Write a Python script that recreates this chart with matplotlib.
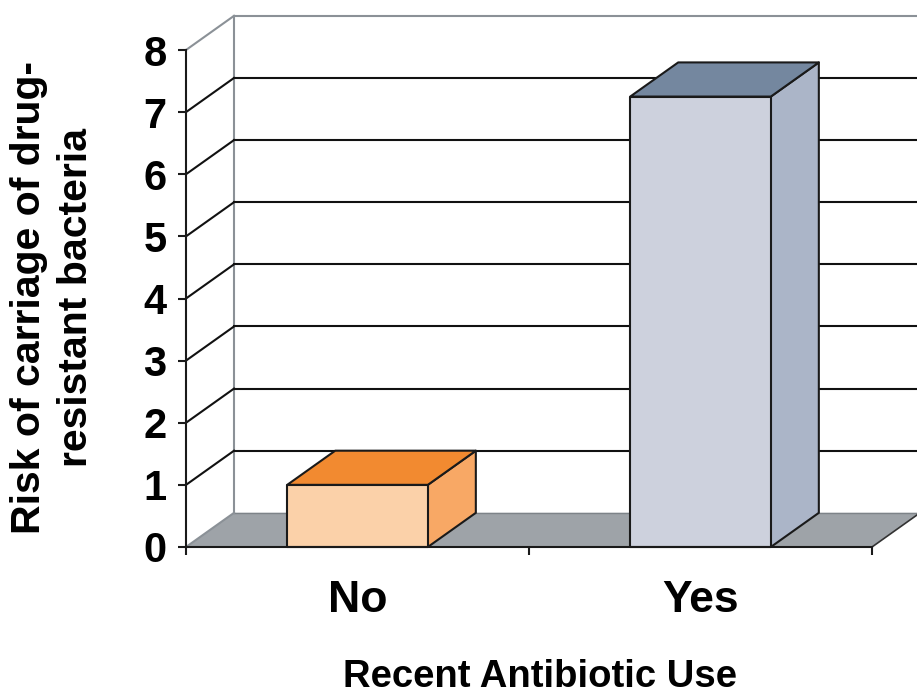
import matplotlib
matplotlib.use('Agg')
import matplotlib.pyplot as plt
from matplotlib.patches import Polygon

categories = ['No', 'Yes']
values = [1.0, 7.25]
yticks = [0, 1, 2, 3, 4, 5, 6, 7, 8]
front_colors = ['#FBD1A9', '#CDD1DD']
top_colors = ['#F28A30', '#74879F']
side_colors = ['#F8A865', '#ABB5C8']
xlabel = 'Recent Antibiotic Use'
ylabel = 'Risk of carriage of drug-\nresistant bacteria'

W, H = 917, 693
fig = plt.figure(figsize=(W / 100, H / 100), dpi=100)
ax = fig.add_axes([186 / W, (H - 547) / H, 686 / W, 497 / H])
ax.set_xlim(-0.5, 1.5)
ax.set_ylim(0, 8)

dx, dy = 0.14, 0.55
bar_w = 0.41
lw = 1.5
gray_line = '#8B9197'
floor_col = '#9EA3A8'
FONT = 'Liberation Sans'

x0, x1 = -0.5, 1.5
# floor
ax.add_patch(Polygon([(x0, 0), (x1, 0), (x1 + dx, dy), (x0 + dx, dy)], closed=True,
                     facecolor=floor_col, edgecolor='none', zorder=1, clip_on=False))
ax.plot([x0 + dx, x1 + dx], [dy, dy], color='#7d8388', lw=1.0, zorder=1.1, clip_on=False)
ax.plot([x1, x1 + dx], [0, dy], color='#333333', lw=1.2, zorder=1.1, clip_on=False)

# back wall left vertical
ax.plot([x0 + dx, x0 + dx], [dy, yticks[-1] + dy], color=gray_line, lw=lw, zorder=1.2, clip_on=False)
# gridlines on back wall + left wall diagonals
for v in yticks:
    col = gray_line if v in (yticks[0], yticks[-1]) else '#111111'
    ax.plot([x0, x0 + dx], [v, v + dy], color=col, lw=lw, zorder=1.2, clip_on=False)
    if v != yticks[0]:
        ax.plot([x0 + dx, x1 + dx], [v + dy, v + dy], color=col, lw=lw, zorder=1.2, clip_on=False)

# bars
for i, (c, v) in enumerate(zip(categories, values)):
    xl, xr = i - bar_w / 2, i + bar_w / 2
    side = [(xr, 0), (xr + dx, dy), (xr + dx, v + dy), (xr, v)]
    top = [(xl, v), (xr, v), (xr + dx, v + dy), (xl + dx, v + dy)]
    front = [(xl, 0), (xr, 0), (xr, v), (xl, v)]
    for pts, fc in ((side, side_colors[i]), (top, top_colors[i]), (front, front_colors[i])):
        ax.add_patch(Polygon(pts, closed=True, facecolor=fc, edgecolor='#1a1a1a',
                             lw=lw, joinstyle='round', zorder=2, clip_on=False))

# axes styling
for s in ('top', 'right'):
    ax.spines[s].set_visible(False)
for s in ('left', 'bottom'):
    ax.spines[s].set_color('#1a1a1a')
    ax.spines[s].set_linewidth(lw)
    ax.spines[s].set_zorder(3)

ax.set_yticks(yticks)
ax.set_yticklabels([str(t) for t in yticks], fontsize=30, fontweight='bold', family=FONT)
ax.tick_params(axis='y', direction='out', length=6, width=lw, pad=8, color='#1a1a1a')
ax.set_xticks(range(len(categories)))
ax.set_xticklabels(categories, fontsize=32, fontweight='bold', family=FONT)
ax.set_xticks([-0.5, 0.5, 1.5], minor=True)
ax.tick_params(axis='x', which='major', length=0, pad=24)
ax.tick_params(axis='x', which='minor', direction='out', length=6, width=lw, color='#1a1a1a')
ax.set_facecolor('none')

ax.set_xlabel(xlabel, fontsize=27.5, fontweight='bold', family=FONT, x=0.516, labelpad=27)
fig.text(53 / W, 1 - 298 / H, ylabel, rotation=90, ha='center', va='center',
         multialignment='center', fontsize=29.5, fontweight='bold', family=FONT, linespacing=1.3)

fig.savefig('out.png', dpi=100)
